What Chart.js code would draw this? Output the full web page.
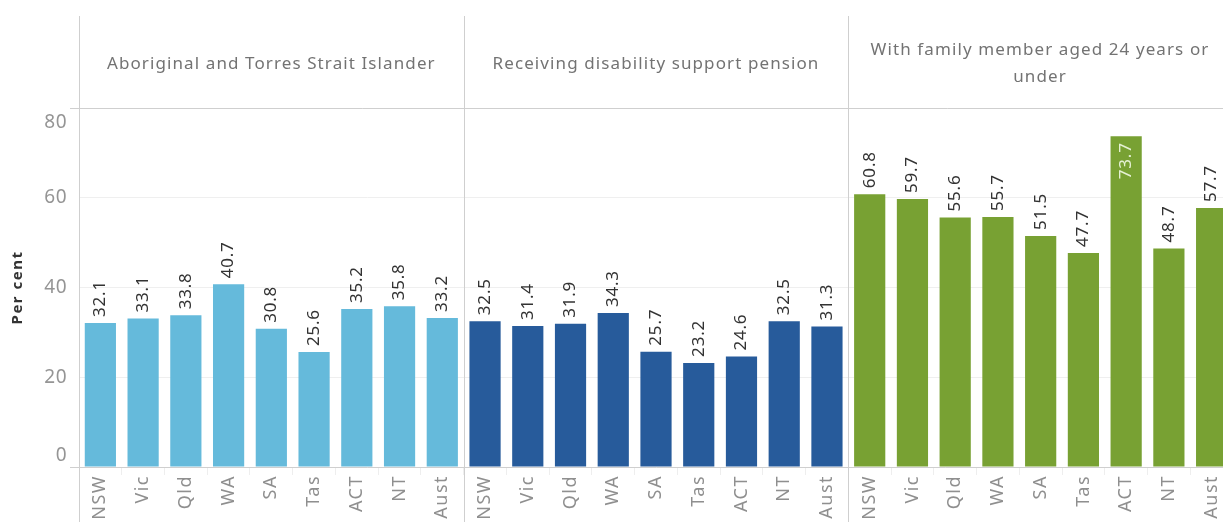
<!DOCTYPE html>
<html>
<head>
<meta charset="utf-8">
<script src="https://cdn.jsdelivr.net/npm/chart.js@4"></script>
<style>
  body { margin: 0; overflow: hidden; background: #fff; }
  #wrap { width: 1240px; height: 522px; }
</style>
</head>
<body>
<div id="wrap"><canvas id="chart" width="1240" height="522"></canvas></div>
<script>
const states = ['NSW', 'Vic', 'Qld', 'WA', 'SA', 'Tas', 'ACT', 'NT', 'Aust'];
const panelTitles = [
    ['Aboriginal and Torres Strait Islander'],
    ['Receiving disability support pension'],
    ['With family member aged 24 years or', 'under']
];
const aboriginal = [32.1, 33.1, 33.8, 40.7, 30.8, 25.6, 35.2, 35.8, 33.2];
const disabilityPension = [32.5, 31.4, 31.9, 34.3, 25.7, 23.2, 24.6, 32.5, 31.3];
const youngFamily = [60.8, 59.7, 55.6, 55.7, 51.5, 47.7, 73.7, 48.7, 57.7];
const panelColors = ['#65badb', '#275b9b', '#78a133'];
const yTicks = [0, 20, 40, 60, 80];

const FONT = '"Noto Sans", "Open Sans", sans-serif';

// 27 categories, three panels of nine
const labels = [...states, ...states, ...states];
const values = [...aboriginal, ...disabilityPension, ...youngFamily];
const colors = labels.map((_, i) => panelColors[Math.floor(i / 9)]);

// the original font is wider, so space the letters a little
const spacingPlugin = {
    id: 'spacing',
    beforeDraw(chart) { chart.ctx.letterSpacing = '1.5px'; }
};

const panelPlugin = {
    id: 'panels',
    afterDraw(chart) {
        const ctx = chart.ctx;
        const x = chart.scales.x, y = chart.scales.y;
        const area = chart.chartArea;
        const H = chart.height;
        const edges = [area.left];
        for (let p = 1; p < 3; p++) {
            edges.push((x.getPixelForValue(p * 9 - 1) + x.getPixelForValue(p * 9)) / 2);
        }
        edges.push(area.right);

        ctx.save();
        ctx.strokeStyle = '#cfcfcf';
        ctx.lineWidth = 1;
        // vertical separators
        for (let i = 0; i < 3; i++) {
            const ex = Math.round(edges[i]) + 0.5;
            ctx.beginPath();
            ctx.moveTo(ex, 16);
            ctx.lineTo(ex, H);
            ctx.stroke();
        }
        // header bottom line
        ctx.beginPath();
        ctx.moveTo(70, Math.round(area.top) + 0.5);
        ctx.lineTo(chart.width, Math.round(area.top) + 0.5);
        ctx.stroke();
        // little extension of the x axis line
        ctx.beginPath();
        ctx.moveTo(70, Math.round(area.bottom) + 0.5);
        ctx.lineTo(area.left, Math.round(area.bottom) + 0.5);
        ctx.stroke();

        // panel headers
        ctx.fillStyle = '#737373';
        ctx.letterSpacing = '1.1px';
        ctx.font = '17px ' + FONT;
        ctx.textAlign = 'center';
        ctx.textBaseline = 'middle';
        panelTitles.forEach((lines, i) => {
            const cx = (edges[i] + edges[i + 1]) / 2;
            const lh = 27;
            const y0 = 64 - (lines.length - 1) * lh / 2;
            lines.forEach((t, j) => ctx.fillText(t, Math.min(cx, 1040), y0 + j * lh));
        });

        // y tick labels (ends nudged inside like the original)
        ctx.fillStyle = '#959595';
        ctx.letterSpacing = '0.5px';
        ctx.font = '19px ' + FONT;
        ctx.textAlign = 'right';
        yTicks.forEach(v => {
            let py = y.getPixelForValue(v);
            if (v === 80) py += 15;
            if (v === 0) py -= 11;
            ctx.fillText(String(v), 67, py);
        });

        // value labels
        const meta = chart.getDatasetMeta(0);
        ctx.letterSpacing = '0.8px';
        ctx.font = '17px ' + FONT;
        meta.data.forEach((bar, i) => {
            const v = values[i];
            const txt = v.toFixed(1);
            ctx.save();
            ctx.translate(bar.x, bar.y);
            ctx.rotate(-Math.PI / 2);
            ctx.textBaseline = 'middle';
            if (v > 70) {
                ctx.fillStyle = 'rgba(235,245,220,0.95)';
                ctx.textAlign = 'right';
                ctx.fillText(txt, -6, 0);
            } else {
                ctx.fillStyle = '#333';
                ctx.textAlign = 'left';
                ctx.fillText(txt, 6, 0);
            }
            ctx.restore();
        });
        ctx.restore();
        ctx.letterSpacing = '0px';
    }
};

new Chart(document.getElementById('chart'), {
    type: 'bar',
    data: {
        labels: labels,
        datasets: [{
            data: values,
            backgroundColor: colors,
            barPercentage: 0.73,
            categoryPercentage: 1.0
        }]
    },
    options: {
        responsive: false,
        animation: false,
        layout: { padding: { top: 108, right: 7, left: 0, bottom: 0 } },
        plugins: { legend: { display: false }, tooltip: { enabled: false } },
        scales: {
            x: {
                afterFit(scale) { scale.height = 55; },
                grid: { drawOnChartArea: false, tickLength: 8, color: '#eeeeee' },
                border: { color: '#cfcfcf' },
                ticks: {
                    minRotation: 90, maxRotation: 90, autoSkip: false, padding: 0,
                    color: '#8f8f8f', font: { family: FONT, size: 18 }
                }
            },
            y: {
                min: 0, max: 80,
                afterFit(scale) { scale.width = 79; },
                ticks: { stepSize: 20, display: false },
                grid: { color: '#efefef', drawTicks: false },
                border: { display: false },
                title: {
                    display: true, text: 'Per cent', color: '#333',
                    font: { family: FONT, size: 15, weight: 'bold' },
                    padding: { top: 9, bottom: 0 }
                }
            }
        }
    },
    plugins: [spacingPlugin, panelPlugin]
});
</script>
</body>
</html>
